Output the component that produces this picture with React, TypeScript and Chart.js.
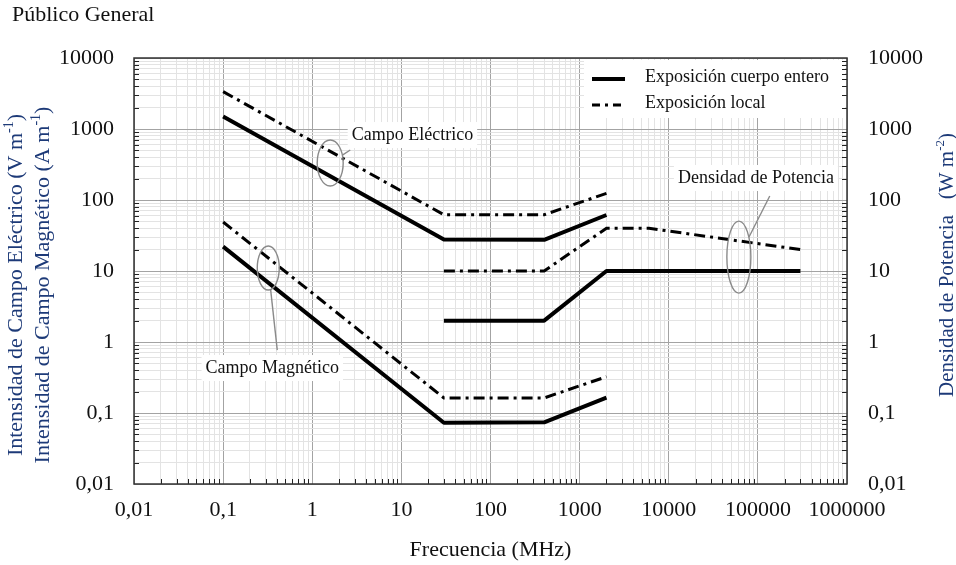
import React, { useEffect, useRef } from 'react';
import { Chart, registerables } from 'chart.js';
Chart.register(...registerables);

const FONT = '"Liberation Serif", "Times New Roman", serif';

// Decade tick labels (both axes share the range)
const xDecades = [0.01, 0.1, 1, 10, 100, 1000, 10000, 100000, 1000000];
const yDecades = [0.01, 0.1, 1, 10, 100, 1000, 10000];

// Series (frequency MHz / value)
const eWholeFreq = [0.1, 30, 400, 2000];
const eWholeVal = [1503, 27.7, 27.5, 61.5];
const eLocalFreq = [0.1, 30, 400, 2000];
const eLocalVal = [3360, 62, 62, 124];
const hWholeFreq = [0.1, 30, 400, 2000];
const hWholeVal = [22, 0.073, 0.074, 0.165];
const hLocalFreq = [0.1, 30, 400, 2000];
const hLocalVal = [49, 0.163, 0.163, 0.324];
const sWholeFreq = [30, 400, 2000, 300000];
const sWholeVal = [2, 2, 10, 10];
const sLocalFreq = [30, 400, 2000, 6000, 300000];
const sLocalVal = [10, 10, 40, 40, 20];

const legendLabels = ['Exposición cuerpo entero', 'Exposición local'];

// Annotation anchors in data coordinates
const annotations = [
  { label: 'Campo Eléctrico', text: [13.3, 822], ellipse: [1.59, 332], rx: 13, ry: 23, leader: [2.67, 506] },
  { label: 'Campo Magnético', text: [0.356, 0.43], ellipse: [0.321, 11], rx: 11, ry: 22, leader: [0.405, 0.77] },
  { label: 'Densidad de Potencia', text: [95000, 204], ellipse: [61200, 15.7], rx: 12, ry: 36, leader: [136000, 114] },
];

const DASH_DOT = [11, 5, 3, 5];

const isDecade = (v: number) => {
  if (!v || v <= 0) return false;
  const l = Math.log10(v);
  return Math.abs(l - Math.round(l)) < 1e-6;
};
const fmt = (v: number) => (isDecade(v) ? String(Number(v.toPrecision(6))).replace('.', ',') : '');

const buildTicks = (decades: number[]) => {
  const t: { value: number }[] = [];
  for (let i = 0; i < decades.length; i++) {
    t.push({ value: decades[i] });
    if (i < decades.length - 1) {
      for (let k = 2; k <= 9; k++) t.push({ value: Number((decades[i] * k).toPrecision(6)) });
    }
  }
  return t;
};

const mk = (f: number[], v: number[]) => f.map((x, i) => ({ x, y: v[i] }));

function drawRich(ctx: CanvasRenderingContext2D, parts: { t: string; sup?: boolean }[], cx: number, cy: number, size: number, color: string) {
  const supSize = Math.round(size * 0.62);
  let total = 0;
  const widths = parts.map((p) => {
    ctx.font = `${p.sup ? supSize : size}px ${FONT}`;
    const w = ctx.measureText(p.t).width;
    total += w;
    return w;
  });
  let x = cx - total / 2;
  ctx.fillStyle = color;
  ctx.textBaseline = 'middle';
  ctx.textAlign = 'left';
  parts.forEach((p, i) => {
    ctx.font = `${p.sup ? supSize : size}px ${FONT}`;
    ctx.fillText(p.t, x, cy + (p.sup ? -size * 0.32 : 0));
    x += widths[i];
  });
}

const extrasPlugin = {
  id: 'extras',
  afterDatasetsDraw(chart: any) {
    const ctx: CanvasRenderingContext2D = chart.ctx;
    const xs = chart.scales.x;
    const ys = chart.scales.y;
    const ca = chart.chartArea;
    ctx.save();
    // annotations
    annotations.forEach((a) => {
      const ex = xs.getPixelForValue(a.ellipse[0]);
      const ey = ys.getPixelForValue(a.ellipse[1]);
      const lx = xs.getPixelForValue(a.leader[0]);
      const ly = ys.getPixelForValue(a.leader[1]);
      ctx.strokeStyle = '#8a8a8a';
      ctx.lineWidth = 1.4;
      ctx.setLineDash([]);
      ctx.beginPath();
      ctx.ellipse(ex, ey, a.rx, a.ry, 0, 0, Math.PI * 2);
      ctx.stroke();
      const t = Math.atan2((ly - ey) / a.ry, (lx - ex) / a.rx);
      ctx.beginPath();
      ctx.moveTo(ex + a.rx * Math.cos(t), ey + a.ry * Math.sin(t));
      ctx.lineTo(lx, ly);
      ctx.stroke();
      const tx = xs.getPixelForValue(a.text[0]);
      const ty = ys.getPixelForValue(a.text[1]);
      ctx.font = `18px ${FONT}`;
      const w = ctx.measureText(a.label).width;
      ctx.fillStyle = '#ffffff';
      ctx.fillRect(tx - w / 2 - 4, ty - 13, w + 8, 26);
      ctx.fillStyle = '#111';
      ctx.textAlign = 'center';
      ctx.textBaseline = 'middle';
      ctx.fillText(a.label, tx, ty);
    });
    // legend
    const lx0 = ca.right - 263;
    const ly0 = ca.top + 2;
    ctx.fillStyle = '#ffffff';
    ctx.fillRect(lx0, ly0, 261, 58);
    ctx.strokeStyle = '#000';
    ctx.lineCap = 'butt';
    ctx.lineWidth = 4;
    ctx.setLineDash([]);
    ctx.beginPath();
    ctx.moveTo(lx0 + 8, ly0 + 19);
    ctx.lineTo(lx0 + 41, ly0 + 19);
    ctx.stroke();
    ctx.lineWidth = 3;
    ctx.setLineDash([8, 5, 3, 5]);
    ctx.beginPath();
    ctx.moveTo(lx0 + 8, ly0 + 45);
    ctx.lineTo(lx0 + 42, ly0 + 45);
    ctx.stroke();
    ctx.setLineDash([]);
    ctx.fillStyle = '#111';
    ctx.font = `18px ${FONT}`;
    ctx.textAlign = 'left';
    ctx.textBaseline = 'middle';
    ctx.fillText(legendLabels[0], lx0 + 61, ly0 + 17);
    ctx.fillText(legendLabels[1], lx0 + 61, ly0 + 43);
    ctx.restore();
  },
  afterDraw(chart: any) {
    const ctx: CanvasRenderingContext2D = chart.ctx;
    const ca = chart.chartArea;
    const xs = chart.scales.x;
    const ys = chart.scales.y;
    ctx.save();
    ctx.strokeStyle = '#222';
    ctx.lineWidth = 1;
    ctx.setLineDash([]);
    ctx.beginPath();
    xs.ticks.forEach((t: any) => {
      if (isDecade(t.value)) return;
      const px = Math.round(xs.getPixelForValue(t.value)) + 0.5;
      ctx.moveTo(px, ca.bottom);
      ctx.lineTo(px, ca.bottom - 5);
    });
    ys.ticks.forEach((t: any) => {
      if (isDecade(t.value)) return;
      const py = Math.round(ys.getPixelForValue(t.value)) + 0.5;
      ctx.moveTo(ca.left, py);
      ctx.lineTo(ca.left + 5, py);
      ctx.moveTo(ca.right, py);
      ctx.lineTo(ca.right - 5, py);
    });
    ctx.stroke();
    ctx.strokeStyle = '#333';
    ctx.lineWidth = 1.5;
    ctx.strokeRect(ca.left, ca.top, ca.right - ca.left, ca.bottom - ca.top);

    // titles
    ctx.fillStyle = '#111';
    ctx.font = `22px ${FONT}`;
    ctx.textAlign = 'left';
    ctx.textBaseline = 'middle';
    ctx.fillText('Público General', 12, 15);
    ctx.textAlign = 'center';
    ctx.font = `22px ${FONT}`;
    ctx.fillText('Frecuencia (MHz)', (ca.left + ca.right) / 2, 550);

    const navy = '#1d3a78';
    ctx.save();
    ctx.translate(16, 285);
    ctx.rotate(-Math.PI / 2);
    drawRich(ctx, [{ t: 'Intensidad de Campo Eléctrico (V m' }, { t: '-1', sup: true }, { t: ')' }], 0, 0, 22, navy);
    ctx.restore();
    ctx.save();
    ctx.translate(43, 285);
    ctx.rotate(-Math.PI / 2);
    drawRich(ctx, [{ t: 'Intensidad de Campo Magnético (A m' }, { t: '-1', sup: true }, { t: ')' }], 0, 0, 22, navy);
    ctx.restore();
    ctx.save();
    ctx.translate(947, 265);
    ctx.rotate(-Math.PI / 2);
    drawRich(ctx, [{ t: 'Densidad de Potencia   (W m' }, { t: '-2', sup: true }, { t: ')' }], 0, 0, 21, navy);
    ctx.restore();
    ctx.restore();
  },
};

export default function App() {
  const ref = useRef<HTMLCanvasElement | null>(null);
  useEffect(() => {
    if (!ref.current) return;
    const gridColor = (c: any) => (c.tick && isDecade(c.tick.value) ? '#a3a3a3' : '#e3e3e3');
    const tickFont = { family: FONT, size: 22 };
    const whole = { borderColor: '#000', borderWidth: 4, pointRadius: 0, fill: false, tension: 0, borderJoinStyle: 'round' as const, borderCapStyle: 'butt' as const };
    const local = { borderColor: '#000', borderWidth: 3, pointRadius: 0, fill: false, tension: 0, borderDash: DASH_DOT, borderCapStyle: 'butt' as const };
    const chart = new Chart(ref.current, {
      type: 'line',
      data: {
        datasets: [
          { label: 'E whole', data: mk(eWholeFreq, eWholeVal), ...whole },
          { label: 'E local', data: mk(eLocalFreq, eLocalVal), ...local },
          { label: 'H whole', data: mk(hWholeFreq, hWholeVal), ...whole },
          { label: 'H local', data: mk(hLocalFreq, hLocalVal), ...local },
          { label: 'S whole', data: mk(sWholeFreq, sWholeVal), ...whole },
          { label: 'S local', data: mk(sLocalFreq, sLocalVal), ...local },
        ] as any,
      },
      options: {
        animation: false,
        responsive: false,
        devicePixelRatio: 1,
        layout: { padding: { top: 58, left: 0, right: 0, bottom: 0 } },
        plugins: { legend: { display: false }, tooltip: { enabled: false }, title: { display: false } },
        scales: {
          x: {
            type: 'logarithmic',
            position: 'bottom',
            min: 0.01,
            max: 1000000,
            afterBuildTicks: (s: any) => { s.ticks = buildTicks(xDecades); },
            afterFit: (s: any) => { s.height = 81; },
            grid: { color: gridColor, lineWidth: 1, drawTicks: false },
            border: { display: false },
            ticks: { autoSkip: false, maxRotation: 0, padding: 13, color: '#111', font: tickFont, callback: (v: any) => fmt(Number(v)) },
          },
          y: {
            type: 'logarithmic',
            position: 'left',
            min: 0.01,
            max: 10000,
            afterBuildTicks: (s: any) => { s.ticks = buildTicks(yDecades); },
            afterFit: (s: any) => { s.width = 134; },
            grid: { color: gridColor, lineWidth: 1, drawTicks: false },
            border: { display: false },
            ticks: { autoSkip: false, padding: 20, color: '#111', font: tickFont, callback: (v: any) => fmt(Number(v)) },
          },
          y2: {
            type: 'logarithmic',
            position: 'right',
            min: 0.01,
            max: 10000,
            afterBuildTicks: (s: any) => { s.ticks = buildTicks(yDecades); },
            afterFit: (s: any) => { s.width = 109; },
            grid: { drawOnChartArea: false, drawTicks: false },
            border: { display: false },
            ticks: { autoSkip: false, padding: 21, color: '#111', font: tickFont, callback: (v: any) => fmt(Number(v)) },
          },
        } as any,
      },
      plugins: [extrasPlugin],
    });
    return () => chart.destroy();
  }, []);
  return (
    <div style={{ position: 'absolute', left: 0, top: 0, width: 956, height: 565, background: '#fff' }}>
      <canvas ref={ref} width={956} height={565} style={{ display: 'block' }} />
    </div>
  );
}
